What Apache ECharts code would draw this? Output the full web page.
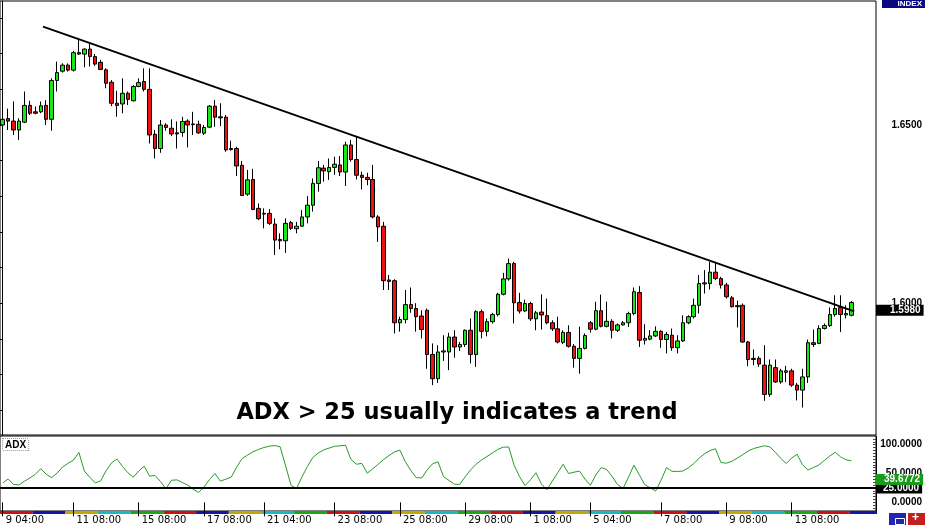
<!DOCTYPE html>
<html><head><meta charset="utf-8">
<script src="https://cdn.jsdelivr.net/npm/echarts@6/dist/echarts.min.js"></script>
<style>html,body{margin:0;padding:0;background:#fff}#c{width:925px;height:525px}</style>
</head><body><div id="c"></div>
<script>
const open = [1.6500,1.6518,1.6511,1.6486,1.6508,1.6555,1.6537,1.6537,1.6555,1.6516,1.6625,1.6651,1.6668,1.6654,1.6703,1.6699,1.6713,1.6692,1.6676,1.6655,
1.6620,1.6561,1.6559,1.6589,1.6568,1.6608,1.6622,1.6600,1.6474,1.6434,1.6500,1.6491,1.6478,1.6479,1.6511,1.6503,1.6502,1.6477,1.6494,1.6553,
1.6523,1.6522,1.6434,1.6434,1.6387,1.6306,1.6347,1.6266,1.6252,1.6252,1.6222,1.6179,1.6175,1.6226,1.6209,1.6216,1.6242,1.6275,1.6336,1.6379,
1.6369,1.6381,1.6388,1.6368,1.6444,1.6403,1.6359,1.6353,1.6347,1.6242,1.6216,1.6065,1.6063,1.5945,1.5954,1.5996,1.5985,1.5964,1.5980,1.5856,
1.5788,1.5863,1.5863,1.5905,1.5877,1.5884,1.5924,1.5856,1.5976,1.5921,1.5948,1.5968,1.6025,1.6068,1.6111,1.6002,1.5978,1.5999,1.5956,1.5975,
1.5965,1.5945,1.5928,1.5890,1.5918,1.5879,1.5845,1.5873,1.5945,1.5927,1.5979,1.5935,1.5949,1.5924,1.5939,1.5945,1.5971,1.6030,1.5896,1.5899,
1.5908,1.5921,1.5898,1.5910,1.5875,1.5894,1.5945,1.5962,1.5994,1.6054,1.6055,1.6087,1.6069,1.6051,1.6015,1.5990,1.5994,1.5891,1.5845,1.5845,
1.5826,1.5744,1.5819,1.5779,1.5806,1.5810,1.5770,1.5756,1.5793,1.5889,1.5887,1.5929,1.5937,1.5968,1.5988,1.5967,1.5966];
const close = [1.6516,1.6511,1.6486,1.6511,1.6555,1.6533,1.6533,1.6554,1.6516,1.6625,1.6647,1.6668,1.6654,1.6703,1.6699,1.6713,1.6692,1.6671,1.6656,1.6617,
1.6561,1.6555,1.6589,1.6572,1.6608,1.6619,1.6600,1.6472,1.6434,1.6500,1.6493,1.6475,1.6475,1.6510,1.6500,1.6501,1.6478,1.6493,1.6553,1.6522,
1.6520,1.6430,1.6431,1.6385,1.6302,1.6346,1.6263,1.6237,1.6250,1.6224,1.6177,1.6175,1.6224,1.6210,1.6216,1.6242,1.6275,1.6336,1.6380,1.6371,
1.6381,1.6390,1.6368,1.6444,1.6403,1.6359,1.6353,1.6347,1.6242,1.6214,1.6063,1.6061,1.5945,1.5954,1.5996,1.5985,1.5962,1.5926,1.5856,1.5788,
1.5863,1.5866,1.5905,1.5877,1.5884,1.5924,1.5856,1.5976,1.5921,1.5948,1.5968,1.6025,1.6068,1.6111,1.6001,1.5978,1.5999,1.5956,1.5973,1.5967,
1.5945,1.5928,1.5891,1.5918,1.5879,1.5845,1.5873,1.5909,1.5927,1.5979,1.5935,1.5949,1.5924,1.5939,1.5945,1.5971,1.6032,1.5896,1.5901,1.5908,
1.5921,1.5898,1.5912,1.5875,1.5894,1.5945,1.5962,1.5994,1.6055,1.6057,1.6087,1.6069,1.6051,1.6018,1.5990,1.5993,1.5891,1.5842,1.5842,1.5829,
1.5744,1.5826,1.5779,1.5810,1.5810,1.5770,1.5756,1.5793,1.5889,1.5884,1.5929,1.5937,1.5968,1.5985,1.5968,1.5971,1.6002];
const low = [1.6494,1.6486,1.6472,1.6458,1.6505,1.6528,1.6530,1.6533,1.6500,1.6484,1.6594,1.6647,1.6650,1.6650,1.6697,1.6662,1.6664,1.6666,1.6654,1.6603,
1.6553,1.6523,1.6533,1.6556,1.6566,1.6606,1.6594,1.6448,1.6406,1.6422,1.6484,1.6469,1.6434,1.6467,1.6437,1.6472,1.6475,1.6472,1.6491,1.6495,
1.6497,1.6425,1.6428,1.6357,1.6301,1.6301,1.6261,1.6233,1.6210,1.6219,1.6135,1.6151,1.6141,1.6205,1.6196,1.6214,1.6224,1.6257,1.6313,1.6341,
1.6346,1.6360,1.6357,1.6329,1.6397,1.6347,1.6319,1.6331,1.6238,1.6172,1.6037,1.6037,1.5915,1.5920,1.5943,1.5973,1.5920,1.5901,1.5816,1.5770,
1.5776,1.5838,1.5812,1.5847,1.5866,1.5877,1.5831,1.5821,1.5901,1.5907,1.5943,1.5963,1.6022,1.6063,1.5943,1.5971,1.5975,1.5950,1.5924,1.5926,
1.5941,1.5922,1.5887,1.5885,1.5875,1.5819,1.5802,1.5870,1.5917,1.5924,1.5932,1.5932,1.5901,1.5919,1.5937,1.5933,1.5966,1.5877,1.5884,1.5896,
1.5905,1.5875,1.5859,1.5866,1.5859,1.5891,1.5941,1.5957,1.5971,1.6027,1.6038,1.6065,1.6041,1.6013,1.5988,1.5932,1.5889,1.5823,1.5826,1.5821,
1.5726,1.5737,1.5776,1.5774,1.5779,1.5765,1.5727,1.5707,1.5776,1.5877,1.5885,1.5926,1.5933,1.5962,1.5919,1.5957,1.5963];
const high = [1.6522,1.6546,1.6566,1.6519,1.6594,1.6568,1.6552,1.6566,1.6570,1.6631,1.6678,1.6673,1.6673,1.6708,1.6743,1.6715,1.6728,1.6699,1.6683,1.6659,
1.6626,1.6596,1.6631,1.6594,1.6612,1.6631,1.6659,1.6659,1.6486,1.6514,1.6505,1.6516,1.6510,1.6523,1.6516,1.6537,1.6512,1.6500,1.6556,1.6570,
1.6561,1.6528,1.6456,1.6439,1.6399,1.6374,1.6377,1.6280,1.6266,1.6264,1.6238,1.6196,1.6238,1.6231,1.6228,1.6261,1.6301,1.6350,1.6399,1.6388,
1.6406,1.6411,1.6413,1.6453,1.6458,1.6467,1.6369,1.6366,1.6388,1.6247,1.6228,1.6079,1.6067,1.5962,1.6037,1.6044,1.6000,1.5980,1.5985,1.5887,
1.5882,1.5910,1.5917,1.5924,1.5891,1.5926,1.5957,1.5980,1.5982,1.5957,1.5973,1.6029,1.6085,1.6125,1.6116,1.6029,1.6010,1.6004,1.5978,1.6025,
1.6013,1.5952,1.5962,1.5924,1.5938,1.5885,1.5934,1.5915,1.5950,1.6004,1.6024,1.6004,1.5955,1.5943,1.5950,1.5976,1.6044,1.6048,1.5941,1.5924,
1.5935,1.5924,1.5919,1.5929,1.5910,1.5966,1.5966,1.6013,1.6079,1.6093,1.6116,1.6116,1.6074,1.6057,1.6020,1.6007,1.5999,1.5894,1.5870,1.5851,
1.5882,1.5842,1.5842,1.5816,1.5824,1.5816,1.5776,1.5816,1.5898,1.5926,1.5938,1.5943,1.5988,1.6022,1.6022,1.5994,1.6006];
const adx = [33.7,40.6,31.0,30.2,36.7,42.3,48.6,58.4,48.6,42.8,50.8,61.2,67.6,73.2,86.6,54.3,43.5,33.7,37.2,54.9,
68.4,75.2,62.3,51.3,43.6,54.4,62.6,45.5,46.5,36.0,23.5,38.2,39.0,34.5,30.0,22.7,17.2,26.6,39.6,50.0,
36.7,40.2,43.7,61.0,76.0,81.9,87.7,91.7,95.0,97.4,98.5,96.2,62.9,29.3,24.0,44.2,62.1,77.8,85.6,91.0,
94.1,97.1,98.0,98.9,74.4,66.0,67.6,50.4,58.2,66.0,74.2,81.3,87.4,90.4,70.3,55.3,42.8,42.2,56.1,66.7,
70.3,44.8,38.1,31.4,31.1,44.5,56.3,66.1,73.3,79.5,85.6,91.8,95.7,95.9,64.1,44.4,28.9,39.1,51.3,31.9,
21.7,36.6,51.3,66.0,49.9,52.3,54.2,40.4,29.7,47.3,60.2,57.0,44.9,30.8,23.9,43.2,64.3,47.6,30.8,25.2,
19.7,38.6,60.2,53.8,53.5,54.3,59.8,67.0,76.8,84.2,89.9,92.9,69.1,67.8,71.2,76.7,82.7,88.8,93.3,95.7,
98.1,96.1,86.8,76.2,67.2,76.8,83.5,65.0,56.0,60.4,64.7,72.6,80.3,86.9,78.8,73.8,71.9];
const tickIdx = [0,13,25,37,48,61,73,85,97,108,121,133,145];
const tickLabels = ['9 04:00','11 08:00','15 08:00','17 08:00','21 04:00','23 08:00','25 08:00','29 08:00','1 08:00','5 04:00','7 08:00','9 08:00','13 08:00'];
const priceLabels = [1.65, 1.60];
const priceTicks = [1.57,1.58,1.59,1.60,1.61,1.62,1.63,1.64,1.65,1.66,1.67,1.68];
const adxLabels = [0, 50, 100];
const adxTicks = [-10,-5,0,5,10,15,20,25,30,35,40,45,50,55,60,65,70,75,80,85,90,95,100,105,110];
const lastPrice = 1.5980;
const adxCurrent = 39.6772;
const adxLevel = 25;
const trendLine = [[7.4, 1.6776], [156.5, 1.5977]];
const stripColors = ['#cc1111', '#1515aa', '#c2a800', '#19b8c8', '#18a818'];
const annotation = 'ADX > 25 usually indicates a trend';

const categories = open.map((_, i) => { const k = tickIdx.indexOf(i); return k >= 0 ? tickLabels[k] : String(i); });
const ohlc = open.map((o, i) => [o, close[i], low[i], high[i]]);
const isTick = (i) => tickIdx.indexOf(i) >= 0;
const LASTCAT = 160;
const hidden = {color: 'rgba(0,0,0,0)', width: 0, type: 'solid'};
const boxLabel = (text, bg, padLeft) => ({show: true, position: 'end', distance: 0, formatter: text,
  backgroundColor: bg, color: '#fff', fontFamily: 'Liberation Sans', fontWeight: 'bold', fontSize: 10,
  padding: [1, 3, 0, padLeft], opacity: 1});

const chart = echarts.init(document.getElementById('c'), null, {renderer: 'canvas'});
const yLabelFont = {fontFamily: 'Liberation Sans', fontWeight: 'bold', fontSize: 10, color: '#000'};
chart.setOption({
  animation: false,
  backgroundColor: '#fff',
  grid: [
    {left: 0, width: 877, top: 1, height: 434, show: true, borderColor: '#000', borderWidth: 1, backgroundColor: 'transparent'},
    {left: 0, width: 877, top: 436, height: 75, show: true, borderColor: '#000', borderWidth: 1, backgroundColor: 'transparent'},
    {left: 0, width: 877, top: 511, height: 3}
  ],
  xAxis: [
    {type: 'category', gridIndex: 0, data: categories, max: LASTCAT, boundaryGap: true,
      axisLine: {show: false}, axisTick: {show: false}, axisLabel: {show: false}, splitLine: {show: false}},
    {type: 'value', gridIndex: 0, min: -0.5, max: LASTCAT + 0.5, show: false},
    {type: 'category', gridIndex: 1, data: categories, max: LASTCAT, boundaryGap: true,
      axisLine: {show: false},
      axisTick: {show: true, alignWithLabel: true, interval: (i) => isTick(i), length: 14, lineStyle: {color: '#000', width: 1}},
      axisLabel: {show: true, interval: (i) => isTick(i), align: 'left', margin: 4, padding: [0, 0, 0, 3],
        fontFamily: 'DejaVu Sans', fontSize: 10, color: '#000'},
      splitLine: {show: false}},
    {type: 'category', gridIndex: 2, data: categories, max: LASTCAT, boundaryGap: true,
      axisLine: {show: false}, axisTick: {show: false}, axisLabel: {show: false},
      splitArea: {show: true, interval: 5, areaStyle: {color: stripColors, opacity: 1}}}
  ],
  yAxis: [
    {type: 'value', gridIndex: 0, position: 'right', min: 1.5630, max: 1.6848,
      axisLine: {show: true, lineStyle: {color: '#000', width: 1}},
      axisTick: {show: true, inside: true, length: 4, customValues: priceTicks, lineStyle: {color: '#000'}},
      axisLabel: Object.assign({show: true, customValues: priceLabels, formatter: (v) => v.toFixed(4), align: 'right', margin: 46}, yLabelFont),
      splitLine: {show: false}},
    {type: 'value', gridIndex: 1, position: 'right', min: -15, max: 115,
      axisLine: {show: true, lineStyle: {color: '#000', width: 1}},
      axisTick: {show: true, inside: true, length: 3, customValues: adxTicks, lineStyle: {color: '#444'}},
      axisLabel: Object.assign({show: true, customValues: adxLabels, formatter: (v) => v.toFixed(4), align: 'right', margin: 46}, yLabelFont),
      splitLine: {show: false}},
    {type: 'value', gridIndex: 2, show: false}
  ],
  series: [
    {type: 'candlestick', name: 'price', xAxisIndex: 0, yAxisIndex: 0, data: ohlc, barWidth: 4, silent: true,
      itemStyle: {color: '#19e619', color0: '#ee1111', borderColor: '#000', borderColor0: '#000', borderWidth: 1}},
    {type: 'line', name: 'trend', xAxisIndex: 1, yAxisIndex: 0, data: trendLine, symbol: 'none', silent: true,
      lineStyle: {color: '#000', width: 2}, z: 5,
      markLine: {silent: true, symbol: ['none', 'none'], animation: false, precision: 4,
        data: [{yAxis: lastPrice, lineStyle: hidden, label: boxLabel(lastPrice.toFixed(4), '#000', 14)}]}},
    {type: 'line', name: 'ADX', xAxisIndex: 2, yAxisIndex: 1, data: adx, symbol: 'none', silent: true,
      lineStyle: {color: '#2a9a2a', width: 1},
      markLine: {silent: true, symbol: ['none', 'none'], animation: false, precision: 4,
        data: [
          {yAxis: adxLevel, lineStyle: {color: '#000', width: 2, type: 'solid'}, label: boxLabel(adxLevel.toFixed(4), '#000', 7)},
          {yAxis: adxCurrent, lineStyle: hidden, label: boxLabel(adxCurrent.toFixed(4), '#1a9a1a', 8)}
        ]}}
  ],
  graphic: [
    {type: 'rect', left: 882, top: 0, shape: {width: 43, height: 8}, style: {fill: '#0a0a80'}, z: 10},
    {type: 'text', right: 3, top: 0, style: {text: 'INDEX', fill: '#fff', font: 'bold 8px "Liberation Sans"'}, z: 11},
    {type: 'text', left: 2, top: 438, style: {text: 'ADX', fill: '#000', font: 'bold 10px "Liberation Sans"',
      backgroundColor: '#fff', borderColor: '#999', borderWidth: 1, borderDash: [1, 1], padding: [1, 2, 0, 2]}, z: 11},
    {type: 'text', x: 457, y: 413, style: {text: annotation, fill: '#000', font: 'bold 22.5px "DejaVu Sans"',
      textAlign: 'center', textVerticalAlign: 'middle'}, z: 11},
    {type: 'rect', left: 889, top: 513, shape: {width: 17, height: 12}, style: {fill: '#2424b4'}, z: 10},
    {type: 'rect', left: 893, top: 516, shape: {width: 9, height: 6}, style: {fill: 'none', stroke: '#fff', lineWidth: 1}, z: 11},
    {type: 'rect', left: 908, top: 513, shape: {width: 17, height: 12}, style: {fill: '#c42020'}, z: 10},
    {type: 'text', left: 912, top: 512, style: {text: '+', fill: '#fff', font: 'bold 12px "Liberation Sans"'}, z: 11}
  ]
});
</script></body></html>
